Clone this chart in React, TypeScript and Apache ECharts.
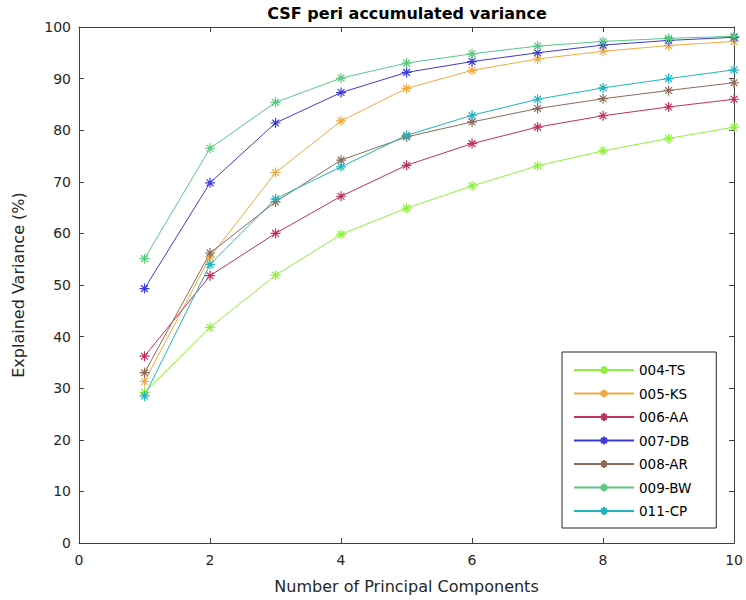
import React, { useEffect, useRef } from "react";
import * as echarts from "echarts";

// Number of principal components retained
const components = [1, 2, 3, 4, 5, 6, 7, 8, 9, 10];

// Accumulated explained variance (%) per subject
const subjectNames = ["004-TS", "005-KS", "006-AA", "007-DB", "008-AR", "009-BW", "011-CP"];
const ts004 = [29.2, 41.8, 51.9, 59.8, 64.9, 69.2, 73.1, 76.0, 78.4, 80.6];
const ks005 = [31.3, 55.4, 71.8, 81.8, 88.1, 91.6, 93.8, 95.3, 96.4, 97.2];
const aa006 = [36.2, 51.8, 60.0, 67.2, 73.2, 77.4, 80.6, 82.8, 84.5, 86.0];
const db007 = [49.3, 69.8, 81.4, 87.3, 91.2, 93.3, 95.0, 96.5, 97.4, 98.0];
const ar008 = [33.0, 56.2, 66.1, 74.2, 78.7, 81.6, 84.2, 86.1, 87.7, 89.2];
const bw009 = [55.1, 76.5, 85.4, 90.1, 93.0, 94.8, 96.3, 97.2, 97.8, 98.2];
const cp011 = [28.5, 54.0, 66.7, 72.9, 79.0, 82.9, 86.0, 88.2, 90.0, 91.7];
const subjectValues = [ts004, ks005, aa006, db007, ar008, bw009, cp011];
const subjectColors = ["#8cf23c", "#f0aa40", "#c03060", "#3c3cd2", "#8c6a5a", "#5ac880", "#20b4c0"];

// Axis tick values
const xTicks = [0, 2, 4, 6, 8, 10];
const yTicks = [0, 10, 20, 30, 40, 50, 60, 70, 80, 90, 100];

// Eight-armed asterisk marker
const asterisk = "path://M5 0L5 10M0 5L10 5M1.6 1.6L8.4 8.4M1.6 8.4L8.4 1.6";

const FONT = "DejaVu Sans";
const AXIS_COLOR = "#404040";
const TEXT_COLOR = "#262626";

export default function App() {
  const ref = useRef<HTMLDivElement>(null);

  useEffect(() => {
    if (!ref.current) return;
    const chart = echarts.init(ref.current, undefined, { renderer: "svg" });

    const xMin = xTicks[0];
    const xMax = xTicks[xTicks.length - 1];
    const xStep = xTicks[1] - xTicks[0];
    const yMin = yTicks[0];
    const yMax = yTicks[yTicks.length - 1];
    const yStep = yTicks[1] - yTicks[0];

    const baseAxis = {
      axisLine: { show: true, onZero: false, lineStyle: { color: AXIS_COLOR, width: 1 } },
      axisTick: { show: true, inside: true, length: 5, lineStyle: { color: AXIS_COLOR } },
      splitLine: { show: false },
    };

    chart.setOption({
      animation: false,
      backgroundColor: "#ffffff",
      title: {
        text: "CSF peri accumulated variance",
        left: 407,
        textAlign: "center",
        top: 5,
        padding: 0,
        textStyle: { fontFamily: FONT, fontSize: 16, fontWeight: "bold", color: "#000" },
      },
      grid: { left: 79, right: 11, top: 27, bottom: 57 },
      legend: {
        orient: "vertical",
        left: 562,
        top: 352,
        padding: [11, 25, 10, 11],
        itemWidth: 60,
        itemHeight: 10,
        itemGap: 9.5,
        borderColor: TEXT_COLOR,
        borderWidth: 1,
        backgroundColor: "#ffffff",
        textStyle: { fontFamily: FONT, fontSize: 13.5, color: "#000" },
        data: subjectNames,
      },
      xAxis: [
        {
          ...baseAxis,
          type: "value",
          position: "bottom",
          min: xMin,
          max: xMax,
          interval: xStep,
          name: "Number of Principal Components",
          nameLocation: "middle",
          nameGap: 35,
          nameTextStyle: { fontFamily: FONT, fontSize: 16, color: TEXT_COLOR },
          axisLabel: { fontFamily: FONT, fontSize: 14, color: TEXT_COLOR, margin: 10 },
        },
        {
          ...baseAxis,
          type: "value",
          position: "top",
          min: xMin,
          max: xMax,
          interval: xStep,
          axisLabel: { show: false },
        },
      ],
      yAxis: [
        {
          ...baseAxis,
          type: "value",
          position: "left",
          min: yMin,
          max: yMax,
          interval: yStep,
          name: "Explained Variance (%)",
          nameLocation: "middle",
          nameGap: 53,
          nameTextStyle: { fontFamily: FONT, fontSize: 16, color: TEXT_COLOR },
          axisLabel: { fontFamily: FONT, fontSize: 14, color: TEXT_COLOR, margin: 8 },
        },
        {
          ...baseAxis,
          type: "value",
          position: "right",
          min: yMin,
          max: yMax,
          interval: yStep,
          axisLabel: { show: false },
        },
      ],
      series: subjectNames.map((name, i) => ({
        name,
        type: "line",
        xAxisIndex: 0,
        yAxisIndex: 0,
        data: components.map((c, j) => [c, subjectValues[i][j]]),
        symbol: asterisk,
        symbolSize: 10,
        showAllSymbol: true,
        color: subjectColors[i],
        lineStyle: { width: 1, color: subjectColors[i] },
        itemStyle: { color: subjectColors[i], borderColor: subjectColors[i], borderWidth: 1.2 },
        emphasis: { disabled: true },
      })),
    });

    return () => chart.dispose();
  }, []);

  return (
    <div
      ref={ref}
      style={{ position: "fixed", left: 0, top: 0, width: 746, height: 600 }}
    />
  );
}
